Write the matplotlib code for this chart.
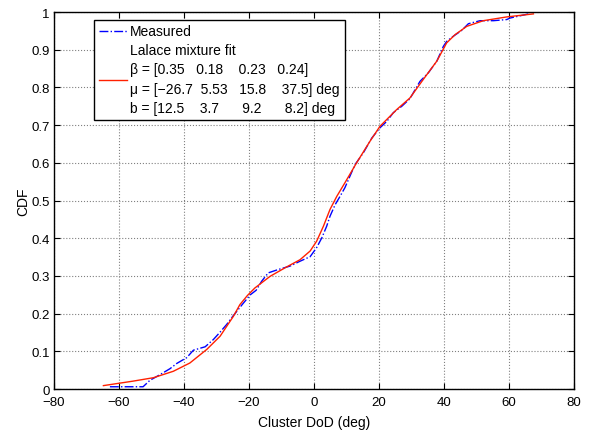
import matplotlib
matplotlib.use('Agg')
import matplotlib.pyplot as plt

plt.rcParams['font.family'] = ['Liberation Sans', 'DejaVu Sans']

meas_x = [-62.8, -52.6, -50.5, -47.4, -44.3, -42.2, -39.2, -37.1, -33.5, -31.0, -28.9,
          -26.9, -24.8, -22.0, -19.6, -17.8, -16.1, -14.1, -11.0, -7.4, -4.3, -1.2, 0.8,
          2.4, 3.9, 4.9, 6.5, 8.0, 9.5, 12.6, 15.2, 17.8, 20.3, 22.4, 24.4, 27.0, 29.5,
          31.1, 32.6, 35.2, 37.8, 39.8, 40.8, 42.9, 45.4, 47.5, 51.1, 55.2, 59.3, 60.3,
          62.9, 66.5]
meas_y = [0.006, 0.006, 0.023, 0.038, 0.054, 0.068, 0.083, 0.103, 0.112, 0.131, 0.151,
          0.171, 0.195, 0.225, 0.25, 0.262, 0.286, 0.308, 0.317, 0.326, 0.339, 0.351, 0.375,
          0.401, 0.432, 0.458, 0.489, 0.511, 0.534, 0.595, 0.627, 0.666, 0.693, 0.710, 0.733,
          0.750, 0.770, 0.794, 0.816, 0.839, 0.870, 0.909, 0.922, 0.936, 0.951, 0.969, 0.977,
          0.977, 0.980, 0.984, 0.989, 0.996]

# Laplace mixture fit
fit_x = [-64.8, -55.6, -49.4, -43.3, -38.2, -33.0, -28.9, -24.8, -22.8, -20.5, -18.2,
         -13.5, -8.4, -4.3, -1.2, 0.8, 2.9, 4.9, 7.0, 9.5, 13.1, 17.2, 20.3, 25.4, 29.5,
         33.6, 37.8, 40.8, 43.4, 47.0, 52.1, 59.3, 67.5]
fit_y = [0.009, 0.021, 0.030, 0.047, 0.069, 0.105, 0.140, 0.193, 0.224, 0.248, 0.268,
         0.299, 0.324, 0.343, 0.366, 0.392, 0.432, 0.476, 0.511, 0.547, 0.600, 0.657, 0.697,
         0.741, 0.772, 0.821, 0.870, 0.918, 0.940, 0.962, 0.977, 0.987, 0.995]

fit_label = ('Lalace mixture fit\n'
             'β = [0.35   0.18    0.23   0.24]\n'
             'μ = [\u221226.7  5.53   15.8    37.5] deg\n'
             'b = [12.5    3.7      9.2      8.2] deg')

fig = plt.figure(figsize=(5.89, 4.31), dpi=100)
ax = fig.add_axes([0.0917, 0.0951, 0.8829, 0.8747])

ax.plot(meas_x, meas_y, color='blue', linestyle='-.', linewidth=1, label='Measured')
ax.plot(fit_x, fit_y, color='#ff2000', linewidth=1, label=fit_label)

ax.set_xlim(-80, 80)
ax.set_ylim(0, 1)
ax.set_xticks(range(-80, 81, 20))
ax.set_yticks([i / 10 for i in range(11)])
ax.set_xticklabels(['\u221280', '\u221260', '\u221240', '\u221220', '0', '20', '40', '60', '80'])
ax.set_yticklabels(['0', '0.1', '0.2', '0.3', '0.4', '0.5', '0.6', '0.7', '0.8', '0.9', '1'])
ax.tick_params(direction='in', top=True, right=True, labelsize=9.5, length=4)
ax.tick_params(axis='x', pad=5)
ax.tick_params(axis='y', pad=3)
ax.grid(True, linestyle=':', color='gray', linewidth=0.8)
for s in ax.spines.values():
    s.set_linewidth(1)

ax.set_xlabel('Cluster DoD (deg)', fontsize=10, labelpad=5)
ax.set_ylabel('CDF', fontsize=10, labelpad=1)

leg = ax.legend(loc='upper left', bbox_to_anchor=(0.077, 0.98), fontsize=10,
                fancybox=False, framealpha=1, edgecolor='black', handlelength=2.0,
                borderpad=0.35, borderaxespad=0, labelspacing=0.35, handletextpad=0.25)
leg.get_frame().set_linewidth(1)
for t in leg.get_texts():
    t.set_linespacing(1.47)

fig.savefig('out.png', dpi=100)
